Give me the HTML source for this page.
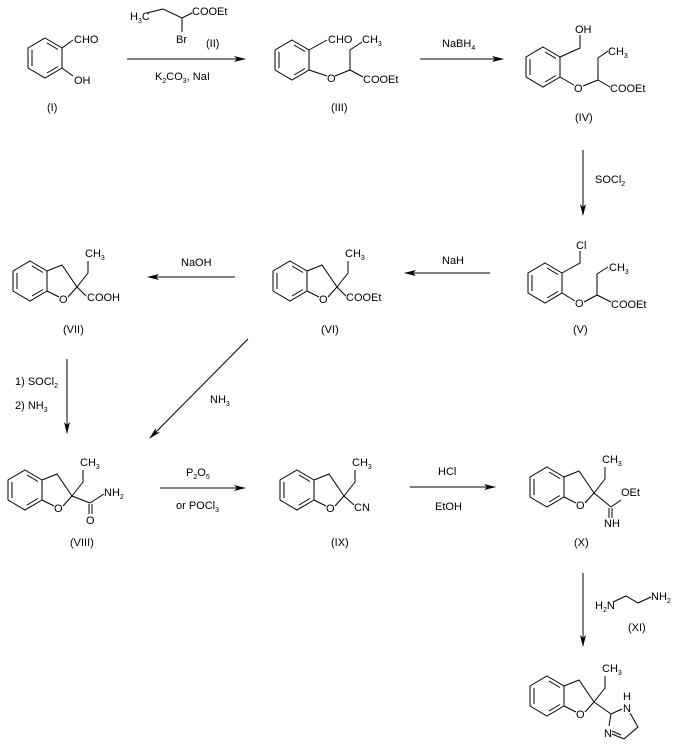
<!DOCTYPE html>
<html><head><meta charset="utf-8"><style>
html,body{margin:0;padding:0;background:#fff;}
svg{display:block;}
text{font-family:"Liberation Sans",Arial,sans-serif;font-size:11px;fill:#000;}
.s{font-size:7px;}
</style></head><body>
<svg width="681" height="750" viewBox="0 0 681 750" xmlns="http://www.w3.org/2000/svg">
<defs>
<g id="bz" stroke="#000" stroke-width="1" fill="none">
<polygon points="0,-20 17,-10 17,10 0,20 -17,10 -17,-10"/>
<line x1="-13" y1="-8" x2="-13" y2="8"/>
<line x1="2" y1="-15" x2="13" y2="-8.5"/>
<line x1="2" y1="15" x2="13" y2="8.5"/>
</g>
<g id="bf">
<use href="#bz"/>
<g stroke="#000" stroke-width="1" fill="none">
<polyline points="17,-10 32,-16 47,6"/>
<line x1="17" y1="10" x2="29" y2="16"/>
<line x1="38" y1="16" x2="47" y2="6"/>
<polyline points="47,6 58,-8 58,-20"/>
</g>
<text x="29" y="22">O</text>
<text x="55" y="-24">CH<tspan class="s" dy="3">3</tspan></text>
</g>
<marker id="ah" markerWidth="12" markerHeight="8" refX="11" refY="4" orient="auto" markerUnits="userSpaceOnUse">
<path d="M0,1 L12,4 L0,7 L3,4 Z" fill="#000"/>
</marker>
</defs>

<g stroke="#000" stroke-width="1" fill="none">
<line x1="127" y1="59" x2="245" y2="59" marker-end="url(#ah)"/>
<line x1="420" y1="59" x2="503" y2="59" marker-end="url(#ah)"/>
<line x1="583" y1="150" x2="583" y2="215" marker-end="url(#ah)"/>
<line x1="490" y1="273" x2="405" y2="273" marker-end="url(#ah)"/>
<line x1="235" y1="277" x2="148" y2="277" marker-end="url(#ah)"/>
<line x1="248" y1="339" x2="150" y2="438" marker-end="url(#ah)"/>
<line x1="67" y1="359" x2="67" y2="433" marker-end="url(#ah)"/>
<line x1="160" y1="488" x2="245" y2="488" marker-end="url(#ah)"/>
<line x1="410" y1="487" x2="495" y2="487" marker-end="url(#ah)"/>
<line x1="583" y1="573" x2="583" y2="646" marker-end="url(#ah)"/>
</g>

<!-- I -->
<use href="#bz" x="45" y="58"/>
<g stroke="#000" fill="none"><line x1="62" y1="48" x2="73" y2="40"/><line x1="62" y1="68" x2="73" y2="76"/></g>
<text x="74" y="43">CHO</text><text x="74" y="84">OH</text>
<text x="47" y="111">(I)</text>

<!-- II -->
<g stroke="#000" fill="none"><polyline points="147,13 163,9 182,18 192,13"/><line x1="182" y1="18" x2="182" y2="32"/></g>
<text x="130" y="20">H<tspan class="s" dy="3">3</tspan><tspan dy="-3">C</tspan></text>
<text x="192" y="15">COOEt</text>
<text x="176" y="43">Br</text>
<text x="206" y="47">(II)</text>
<text x="155" y="80">K<tspan class="s" dy="3">2</tspan><tspan dy="-3">CO</tspan><tspan class="s" dy="3">3</tspan><tspan dy="-3">,  NaI</tspan></text>

<!-- III -->
<use href="#bz" x="292" y="60"/>
<g stroke="#000" fill="none"><line x1="309" y1="50" x2="327" y2="40"/><line x1="309" y1="70" x2="327" y2="76"/><line x1="335" y1="76" x2="350" y2="70"/><polyline points="350,70 350,50 362,42"/><line x1="350" y1="70" x2="363" y2="77"/></g>
<text x="328" y="43">CHO</text><text x="362" y="43">CH<tspan class="s" dy="3">3</tspan></text>
<text x="327" y="82">O</text><text x="363" y="83">COOEt</text>
<text x="331" y="111">(III)</text>
<text x="442" y="47">NaBH<tspan class="s" dy="3">4</tspan></text>

<!-- IV -->
<use href="#bz" x="543" y="67"/>
<g stroke="#000" fill="none"><polyline points="560,57 580,48 580,35"/><line x1="560" y1="77" x2="574" y2="85"/><line x1="583" y1="86" x2="598" y2="80"/><polyline points="598,80 598,58 608,51"/><line x1="598" y1="80" x2="610" y2="87"/></g>
<text x="575" y="33">OH</text><text x="608" y="55">CH<tspan class="s" dy="3">3</tspan></text>
<text x="574" y="92">O</text><text x="610" y="92">COOEt</text>
<text x="575" y="121">(IV)</text>
<text x="595" y="183">SOCl<tspan class="s" dy="3">2</tspan></text>

<!-- V -->
<use href="#bz" x="545" y="283"/>
<g stroke="#000" fill="none"><polyline points="562,273 580,263 580,251"/><line x1="562" y1="293" x2="575" y2="301"/><line x1="584" y1="302" x2="597" y2="295"/><polyline points="597,295 597,274 608,267"/><line x1="597" y1="295" x2="611" y2="302"/></g>
<text x="576" y="249">Cl</text><text x="609" y="271">CH<tspan class="s" dy="3">3</tspan></text>
<text x="575" y="307">O</text><text x="611" y="308">COOEt</text>
<text x="573" y="333">(V)</text>
<text x="442" y="264">NaH</text>

<!-- VI -->
<use href="#bf" x="290" y="281"/>
<line x1="337" y1="287" x2="346" y2="296" stroke="#000"/>
<text x="346" y="301">COOEt</text>
<text x="321" y="333">(VI)</text>
<text x="181" y="266">NaOH</text>

<!-- VII -->
<use href="#bf" x="30" y="281"/>
<line x1="77" y1="287" x2="86" y2="296" stroke="#000"/>
<text x="87" y="301">COOH</text>
<text x="63" y="333">(VII)</text>
<text x="15" y="385">1) SOCl<tspan class="s" dy="3">2</tspan></text>
<text x="15" y="409">2) NH<tspan class="s" dy="3">3</tspan></text>
<text x="210" y="403">NH<tspan class="s" dy="3">3</tspan></text>

<!-- VIII -->
<use href="#bf" x="25" y="490"/>
<g stroke="#000" fill="none"><line x1="72" y1="496" x2="90" y2="503"/><line x1="90" y1="503" x2="104" y2="494"/><line x1="89" y1="504" x2="89" y2="514"/><line x1="92" y1="504" x2="92" y2="514"/></g>
<text x="104" y="496">NH<tspan class="s" dy="3">2</tspan></text>
<text x="86" y="524">O</text>
<text x="70" y="546">(VIII)</text>
<text x="186" y="476">P<tspan class="s" dy="3">2</tspan><tspan dy="-3">O</tspan><tspan class="s" dy="3">5</tspan></text>
<text x="176" y="509">or POCl<tspan class="s" dy="3">3</tspan></text>

<!-- IX -->
<use href="#bf" x="297" y="490"/>
<line x1="344" y1="496" x2="354" y2="505" stroke="#000"/>
<text x="354" y="511">CN</text>
<text x="331" y="546">(IX)</text>
<text x="438" y="475">HCl</text>
<text x="435" y="510">EtOH</text>

<!-- X -->
<use href="#bf" x="547" y="487"/>
<g stroke="#000" fill="none"><line x1="594" y1="493" x2="611" y2="507"/><line x1="611" y1="507" x2="621" y2="500"/><line x1="609" y1="508" x2="609" y2="518"/><line x1="612" y1="508" x2="612" y2="518"/></g>
<text x="621" y="496">OEt</text>
<text x="604" y="527">NH</text>
<text x="574" y="546">(X)</text>

<!-- XI -->
<g stroke="#000" fill="none"><polyline points="613,602 626,596 638,603 651,597"/></g>
<text x="595" y="609">H<tspan class="s" dy="3">2</tspan><tspan dy="-3">N</tspan></text>
<text x="651" y="600">NH<tspan class="s" dy="3">2</tspan></text>
<text x="628" y="631">(XI)</text>

<!-- final -->
<use href="#bf" x="547" y="696"/>
<g stroke="#000" fill="none"><line x1="594" y1="702" x2="611" y2="714"/><line x1="611" y1="714" x2="622" y2="709"/><polyline points="630,713 638,727 624,739"/><line x1="624" y1="739" x2="612" y2="734"/><line x1="621" y1="735" x2="612" y2="731"/><line x1="611" y1="714" x2="609" y2="726"/></g>
<text x="623" y="700">H</text><text x="623" y="712">N</text>
<text x="604" y="737">N</text>
</svg>
</body></html>
